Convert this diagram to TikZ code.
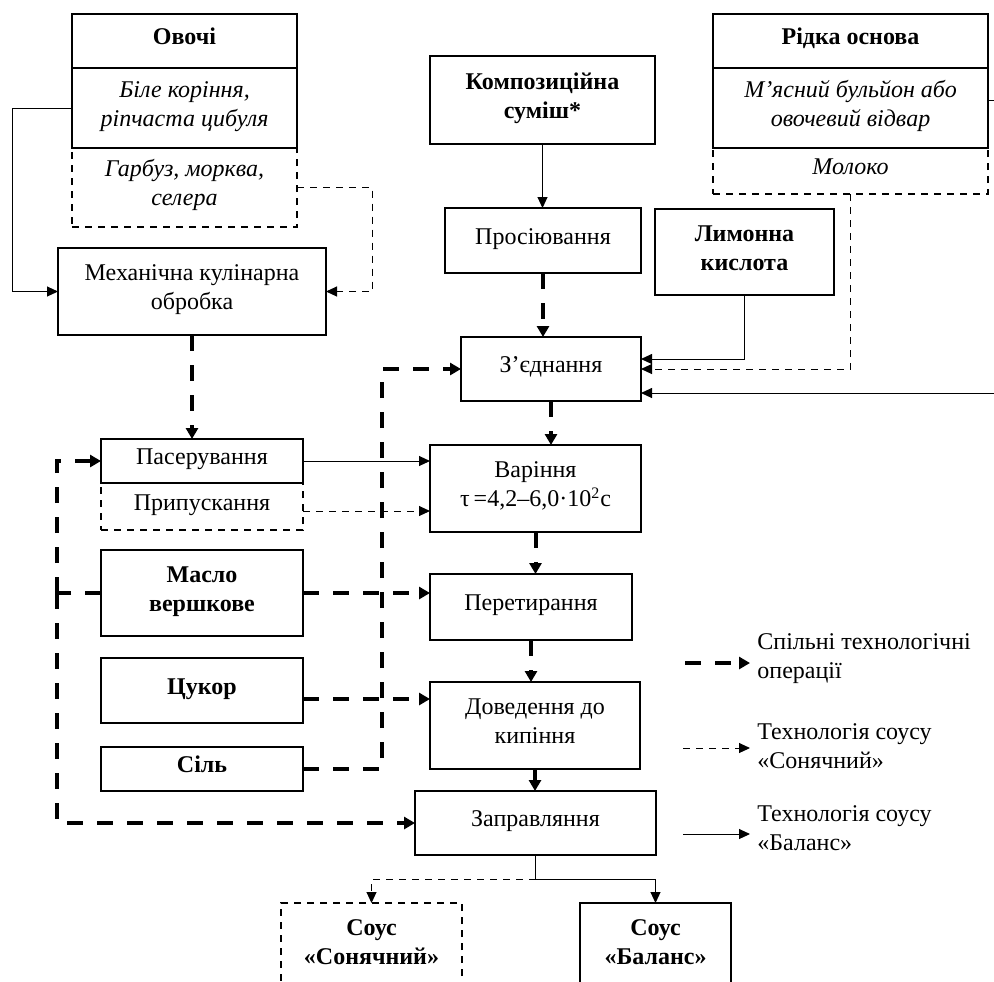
\documentclass[tikz,border=0pt]{standalone}
\usepackage{fontspec}
\setmainfont{Liberation Serif}
\usetikzlibrary{arrows.meta,calc}
\newcommand\fs{\fontsize{12pt}{14.5pt}\selectfont}
\newcommand\mytx[1]{\raisebox{1pt}[\height][\depth]{\begin{tabular}{@{}c@{}}#1\end{tabular}}}
\newcommand\bx[7]{\node[#2, minimum width={(#5-#3)*0.5pt}, minimum height={(#6-#4)*0.5pt}] (#1) at ({(#3+#5)/2},{(#4+#6)/2}) {\mytx{#7}};}
\tikzset{
  box/.style={draw, line width=0.6pt, inner sep=0pt, outer sep=0pt, font=\fs},
  dbox/.style={box, dash pattern=on 3.5pt off 3pt},
  ln/.style={line width=0.5pt},
  lnarr/.style={ln, -{Triangle[length=5.5pt,width=5pt]}},
  dln/.style={line width=0.5pt, dash pattern=on 3.5pt off 3pt},
  dlnarr/.style={dln, -{Triangle[length=5.5pt,width=5pt]}},
  tk/.style={line width=2pt, dash pattern=on 8pt off 7pt},
  tkarr/.style={tk, -{Triangle[length=5.5pt,width=6pt]}},
  legtext/.style={anchor=west, inner sep=0pt, font=\fs}
}
\begin{document}
\begin{tikzpicture}[x=0.5pt,y=-0.5pt]
\useasboundingbox (0,0) rectangle (994,981);
\clip (0,0) rectangle (994,981);
\fill[white] (0,0) rectangle (994,981);

% boxes
\bx{ov3}{dbox,font=\fs\itshape}{72}{148}{297}{227}{Гарбуз, морква,\\селера}
\bx{ov1}{box,font=\fs\bfseries}{72}{14}{297}{68}{Овочі}
\bx{ov2}{box,font=\fs\itshape}{72}{68}{297}{148}{Біле коріння,\\ріпчаста цибуля}
\bx{mekh}{box}{58}{248}{326}{335}{Механічна кулінарна\\обробка}
\bx{komp}{box,font=\fs\bfseries}{430}{56}{655}{144}{Композиційна\\суміш*}
\bx{pros}{box}{445}{208}{641}{273}{Просіювання}
\bx{lym}{box,font=\fs\bfseries}{655}{209}{834}{295}{Лимонна\\кислота}
\bx{r3}{dbox,font=\fs\itshape}{713}{148}{988}{194}{Молоко}
\bx{r1}{box,font=\fs\bfseries}{713}{14}{988}{68}{Рідка основа}
\bx{r2}{box,font=\fs\itshape}{713}{68}{988}{148}{М’ясний бульйон або\\овочевий відвар}
\bx{zyed}{box}{461}{337}{641}{401}{З’єднання}
\bx{pryp}{dbox}{101}{483}{303}{530}{Припускання}
\bx{pas}{box}{101}{439}{303}{483}{Пасерування}
\bx{maslo}{box,font=\fs\bfseries}{101}{550}{303}{636}{Масло\\вершкове}
\bx{tsuk}{box,font=\fs\bfseries}{101}{658}{303}{723}{Цукор}
\bx{sil}{box,font=\fs\bfseries}{101}{747}{303}{791}{Сіль}
\bx{var}{box}{430}{445}{641}{532}{Варіння\\τ\,=4,2–6,0·10\textsuperscript{2}с}
\bx{per}{box}{430}{574}{632}{640}{Перетирання}
\bx{dov}{box}{430}{682}{640}{769}{Доведення до\\кипіння}
\bx{zapr}{box}{415}{791}{656}{855}{Заправляння}
\bx{sons}{dbox,font=\fs\bfseries}{281}{903}{462}{990}{Соус\\«Сонячний»}
\bx{bal}{box,font=\fs\bfseries}{580}{903}{731}{990}{Соус\\«Баланс»}

% connectors top left
\draw[lnarr] (ov2.west) -- ++(-60,0) |- (mekh.west);
\draw[dlnarr] (ov3.east) -- ++(75,0) |- (mekh.east);
\draw[tkarr] (mekh.south) -- (mekh.south |- pas.north);

% central column
\draw[lnarr] (komp.south) -- (komp.south |- pros.north);
\draw[tkarr] (pros.south) -- (pros.south |- zyed.north);
\draw[lnarr] (lym.south) |- ($(zyed.east)+(0,-10)$);
\draw[dlnarr] (r3.south) |- (zyed.east);
\draw[lnarr] ($(r2.east)+(0,-8)$) -- ++(20,0) |- ($(zyed.east)+(0,24)$);
\draw[tkarr] (zyed.south) -- (zyed.south |- var.north);
\draw[tkarr] (var.south) -- (var.south |- per.north);
\draw[tkarr] (per.south) -- (per.south |- dov.north);
\draw[tkarr] (dov.south) -- (dov.south |- zapr.north);
\draw[ln] (zapr.south) -- ++(0,24) coordinate (split);
\draw[lnarr] (split) -| (bal.north);
\draw[dlnarr] (split) -| (sons.north);

% left inputs
\draw[lnarr] (pas.east) -- (pas.east -| var.west);
\coordinate (pe) at ($(pryp.east)+(0,4.5)$);
\draw[dlnarr] (pe) -- (pe -| var.west);
\draw[tkarr] (maslo.east) -- (maslo.east -| per.west);
\draw[tk] (maslo.west) -- ++(-44,0) coordinate (lft);
\draw[tkarr] (lft) |- (pas.west);
\draw[tkarr] (lft) |- (zapr.west);
\coordinate (te) at ($(tsuk.east)+(0,8.5)$);
\draw[tkarr] (te) -- (te -| dov.west);
\draw[tkarr] (sil.east) -- ++(79,0) |- (zyed.west);

% legend
\node[legtext] (leg1) at (757,658) {\begin{tabular}{@{}l@{}}Спільні технологічні\\операції\end{tabular}};
\node[legtext] (leg2) at (757,748) {\begin{tabular}{@{}l@{}}Технологія соусу\\«Сонячний»\end{tabular}};
\node[legtext] (leg3) at (757,830) {\begin{tabular}{@{}l@{}}Технологія соусу\\«Баланс»\end{tabular}};
\coordinate (la1) at (685,663);
\coordinate (lb1) at (750,663);
\coordinate (la2) at (683,748);
\coordinate (lb2) at (750,748);
\coordinate (la3) at (683,834);
\coordinate (lb3) at (750,834);
\draw[tkarr] (la1) -- (lb1);
\draw[dlnarr] (la2) -- (lb2);
\draw[lnarr] (la3) -- (lb3);
\end{tikzpicture}
\end{document}
